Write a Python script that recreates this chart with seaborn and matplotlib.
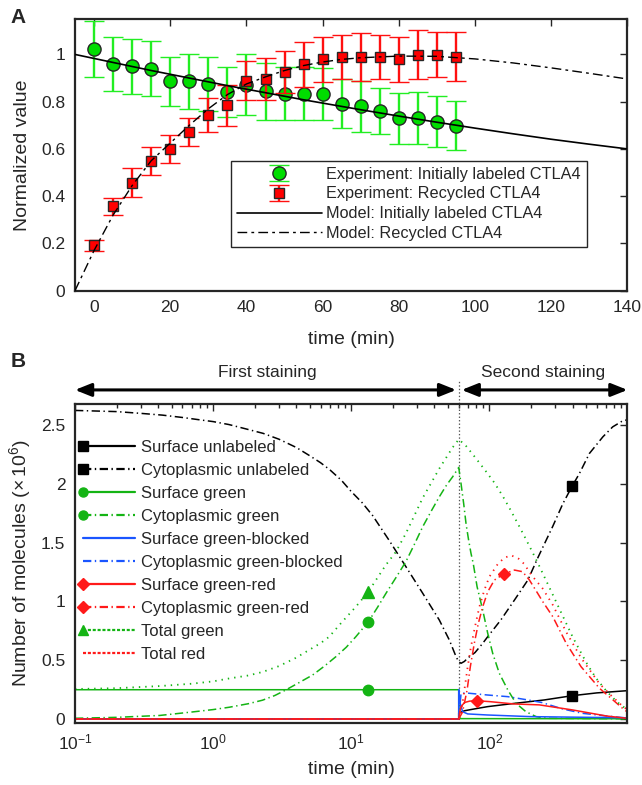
import numpy as np
import matplotlib
matplotlib.use("Agg")
import matplotlib.pyplot as plt
import seaborn as sns
from matplotlib.lines import Line2D
from matplotlib.legend_handler import HandlerLine2D
import matplotlib.ticker as mticker
import matplotlib.transforms as mtrans

# ---------------- Panel A data ----------------
time_exp = [0, 5, 10, 15, 20, 25, 30, 35, 40, 45, 50, 55, 60, 65, 70, 75, 80, 85, 90, 95]
init_mean = [1.023, 0.960, 0.950, 0.940, 0.886, 0.886, 0.876, 0.841, 0.872, 0.844,
             0.834, 0.834, 0.834, 0.791, 0.781, 0.760, 0.730, 0.730, 0.716, 0.699]
init_err = [0.118, 0.115, 0.117, 0.115, 0.105, 0.117, 0.115, 0.107, 0.130, 0.120,
            0.113, 0.113, 0.110, 0.103, 0.108, 0.096, 0.108, 0.110, 0.108, 0.103]
recyc_mean = [0.193, 0.357, 0.457, 0.548, 0.599, 0.673, 0.743, 0.784, 0.889, 0.896,
              0.925, 0.959, 0.979, 0.989, 0.989, 0.989, 0.979, 0.999, 0.999, 0.990]
recyc_err = [0.023, 0.036, 0.061, 0.060, 0.059, 0.060, 0.072, 0.085, 0.083, 0.089,
             0.089, 0.095, 0.095, 0.095, 0.102, 0.095, 0.095, 0.104, 0.095, 0.104]

time_model = [-5, 0, 5, 10, 15, 20, 25, 30, 35, 40, 45, 50, 55, 60, 65, 70, 80, 90,
              100, 110, 120, 130, 140]
model_init = [1.0, 0.983, 0.966, 0.949, 0.932, 0.916, 0.900, 0.884, 0.868, 0.853, 0.838,
              0.823, 0.808, 0.794, 0.780, 0.766, 0.739, 0.713, 0.688, 0.664, 0.641, 0.620, 0.600]
model_recyc = [0.0, 0.17, 0.32, 0.445, 0.55, 0.625, 0.70, 0.77, 0.83, 0.875, 0.905,
               0.932, 0.953, 0.968, 0.979, 0.986, 0.993, 0.992, 0.981, 0.964, 0.943, 0.920, 0.896]

# ---------------- Panel B data ----------------
t_cyto_unl = [0.1, 0.2, 0.3, 0.43, 0.6, 0.8, 1.0, 1.3, 1.7, 2.3, 3.0, 4.0, 5.0, 6.0, 7.0, 8.5,
              10, 12, 14.3, 18.8, 24.9, 32.9, 43.4, 51.3, 57.4, 60, 62.4, 66, 70, 78.7, 89,
              97.3, 121, 152, 190, 224, 288, 340, 397, 449, 530, 663, 781, 924, 1000]
v_cyto_unl = [2.625, 2.615, 2.60, 2.585, 2.565, 2.545, 2.53, 2.505, 2.47, 2.43, 2.38, 2.31,
              2.24, 2.18, 2.12, 2.03, 1.935, 1.84, 1.73, 1.52, 1.295, 1.07, 0.842, 0.672,
              0.53, 0.487, 0.474, 0.49, 0.52, 0.565, 0.64, 0.70, 0.842, 1.012, 1.182, 1.37,
              1.64, 1.83, 1.98, 2.089, 2.259, 2.40, 2.485, 2.537, 2.545]

t_surf_unl = [0.1, 60, 60, 66, 80, 97, 150, 250, 397, 600, 1000]
v_surf_unl = [0.0, 0.0, 0.05, 0.07, 0.088, 0.105, 0.132, 0.162, 0.198, 0.222, 0.241]

t_surf_green = [0.1, 60, 60, 62, 1000]
v_surf_green = [0.249, 0.249, 0.02, 0.003, 0.002]

t_cyto_green = [0.1, 0.2, 0.41, 0.71, 1.0, 1.31, 1.8, 2.28, 2.8, 3.36, 4.2, 5.25, 6.4, 7.74,
                9.2, 10.8, 13.3, 15.5, 17.8, 21, 24.9, 28.5, 32.9, 38, 43.4, 49, 54.2, 60,
                62.4, 65.2, 67.8, 70.8, 73.6, 76.5, 81.5, 89.5, 97.3, 105.7, 118, 136, 156,
                184, 218, 260, 1000]
v_cyto_green = [0.006, 0.014, 0.03, 0.06, 0.08, 0.10, 0.13, 0.16, 0.20, 0.247, 0.31, 0.374,
                0.45, 0.53, 0.61, 0.70, 0.827, 0.95, 1.067, 1.20, 1.34, 1.48, 1.635, 1.77,
                1.89, 1.99, 2.06, 2.14, 2.0, 1.83, 1.66, 1.52, 1.41, 1.32, 1.125, 0.927, 0.729,
                0.559, 0.389, 0.247, 0.133, 0.062, 0.02, 0.006, 0.002]

t_tot_green = [0.1, 0.2, 0.41, 0.7, 1.0, 1.31, 1.8, 2.28, 3.0, 3.97, 5.0, 6.0, 6.93, 8.5, 10.8,
               13.3, 17.8, 21, 24.9, 32.9, 43.4, 54.2, 60, 67, 79, 93, 108.7, 125, 142, 161,
               182, 205, 230, 257, 288, 322, 360, 402, 454, 515, 593, 700, 836, 1000]
v_tot_green = [0.255, 0.262, 0.28, 0.30, 0.32, 0.345, 0.37, 0.40, 0.45, 0.52, 0.59, 0.645,
               0.70, 0.82, 0.955, 1.083, 1.31, 1.42, 1.58, 1.88, 2.13, 2.31, 2.378, 2.33, 2.225,
               2.117, 2.01, 1.896, 1.78, 1.66, 1.54, 1.42, 1.30, 1.18, 1.057, 0.935, 0.814,
               0.695, 0.578, 0.459, 0.346, 0.241, 0.147, 0.077]

t_surf_blk = [0.1, 60, 60, 61.5, 64, 69.7, 97, 200, 1000]
v_surf_blk = [0.0, 0.0, 0.25, 0.133, 0.062, 0.043, 0.034, 0.02, 0.01]

t_cyto_blk = [0.1, 60, 62.4, 69.7, 97, 136, 190, 240, 340, 475, 700, 1000]
v_cyto_blk = [0.0, 0.0, 0.22, 0.22, 0.204, 0.19, 0.162, 0.14, 0.085, 0.048, 0.026, 0.008]

t_surf_red = [0.1, 60, 61, 62.4, 66, 72, 81.5, 100, 150, 230, 400, 700, 1000]
v_surf_red = [0.0, 0.0, 0.06, 0.105, 0.14, 0.152, 0.155, 0.148, 0.128, 0.12, 0.077, 0.026, 0.005]

t_cyto_red = [0.1, 60, 64, 69, 72.8, 77.8, 83.2, 89.5, 97.3, 108.7, 127, 152, 174, 195, 224,
              243, 288, 360, 461, 627, 761, 950, 1000]
v_cyto_red = [0.0, 0.0, 0.06, 0.247, 0.445, 0.644, 0.813, 0.955, 1.082, 1.182, 1.233, 1.267,
              1.253, 1.182, 1.068, 1.0, 0.87, 0.644, 0.445, 0.261, 0.176, 0.077, 0.06]

t_tot_red = [0.1, 60, 62, 64, 66, 69.7, 73.6, 78.7, 84.7, 92, 100, 115, 128.5, 144, 163, 179,
             200, 243, 288, 360, 461, 627, 761, 900, 1000]
v_tot_red = [0.0, 0.0, 0.06, 0.14, 0.25, 0.445, 0.615, 0.785, 0.955, 1.097, 1.21, 1.318, 1.372,
             1.392, 1.363, 1.318, 1.23, 1.11, 0.97, 0.74, 0.52, 0.30, 0.20, 0.12, 0.077]

# single marker positions (time, value)
mk_unl_t = [397, 397]
mk_unl_v = [0.198, 1.98]
mk_green_t = [13.3, 13.3]
mk_green_v = [0.249, 0.827]
mk_totg_t = [13.3]
mk_totg_v = [1.083]
mk_red_t = [81.5, 127]
mk_red_v = [0.155, 1.233]

# ---------------- Style ----------------
sns.set_theme(style="white")
plt.rcParams["font.family"] = ["Liberation Sans", "DejaVu Sans"]
plt.rcParams["mathtext.fontset"] = "custom"
plt.rcParams["mathtext.rm"] = "Liberation Sans"
plt.rcParams["mathtext.it"] = "Liberation Sans:italic"
plt.rcParams["mathtext.bf"] = "Liberation Sans:bold"
plt.rcParams["lines.scale_dashes"] = False

DARK = "#262626"
GREEN = "#14b414"
BLUE = "#1a55ff"
RED = "#ff1a1a"
DASHDOT = (0, (6, 2.5, 1, 2.5))
DOTTED = (0, (1, 3.6))
SHORTDASH = (0, (2.2, 1.3))

fig = plt.figure(figsize=(6.42, 7.85), dpi=100)
axA = fig.add_axes([0.1168, 0.6297, 0.8606, 0.3461])
axB = fig.add_axes([0.1168, 0.0790, 0.8606, 0.4064])


def style_axes(ax):
    for s in ax.spines.values():
        s.set_linewidth(1.6)
        s.set_color(DARK)
    ax.tick_params(which="both", direction="in", top=True, right=True,
                   colors=DARK, labelcolor=DARK, labelsize=12.5, width=1.0)
    ax.tick_params(which="major", length=5, pad=7)
    ax.tick_params(which="minor", length=3)


# ---------------- Panel A ----------------
axA.errorbar(time_exp, init_mean, yerr=init_err, fmt="o", ms=9.5, mfc="#00dd00",
             mec=DARK, mew=1.0, ecolor="#22ee22", elinewidth=1.7, capsize=7,
             capthick=1.7, label="Experiment: Initially labeled CTLA4", zorder=3)
axA.errorbar(time_exp, recyc_mean, yerr=recyc_err, fmt="s", ms=7.5, mfc="#ff0000",
             mec=DARK, mew=1.0, ecolor="#ff1010", elinewidth=1.7, capsize=7,
             capthick=1.7, label="Experiment: Recycled CTLA4", zorder=4)
sns.lineplot(x=time_model, y=model_init, ax=axA, color="black", linewidth=1.2,
             estimator=None, sort=False, label="Model: Initially labeled CTLA4", zorder=5)
sns.lineplot(x=time_model, y=model_recyc, ax=axA, color="black", linewidth=1.0,
             linestyle=(0, (7, 3, 2, 3)), estimator=None, sort=False,
             label="Model: Recycled CTLA4", zorder=5)

axA.set_xlim(-5, 140)
axA.set_ylim(0, 1.15)
axA.set_xticks(range(0, 141, 20))
axA.set_yticks([0, 0.2, 0.4, 0.6, 0.8, 1.0])
axA.yaxis.set_major_formatter(mticker.FuncFormatter(lambda v, p: f"{v:g}"))
style_axes(axA)
axA.set_xlabel("time (min)", fontsize=14, color=DARK)
axA.set_ylabel("Normalized value", fontsize=14, color=DARK)
axA.xaxis.set_label_coords(0.5, -0.15)
axA.yaxis.set_label_coords(-0.08, 0.5)

hA, lA = axA.get_legend_handles_labels()
order = [lA.index("Experiment: Initially labeled CTLA4"), lA.index("Experiment: Recycled CTLA4"),
         lA.index("Model: Initially labeled CTLA4"), lA.index("Model: Recycled CTLA4")]
legA = axA.legend([hA[i] for i in order], [lA[i] for i in order], loc="upper left",
                  bbox_to_anchor=(0.283, 0.478), borderaxespad=0,
                  fontsize=11.7, frameon=True, fancybox=False, edgecolor=DARK,
                  framealpha=1, borderpad=0.35, labelspacing=0.3, handlelength=5.2,
                  handletextpad=0.3)
legA.get_frame().set_linewidth(1.0)
for txt in legA.get_texts():
    txt.set_color(DARK)

# ---------------- Panel B ----------------
def bline(t, v, color, ls, lw=1.1, z=2):
    sns.lineplot(x=t, y=v, ax=axB, color=color, linestyle=ls, linewidth=lw,
                 estimator=None, sort=False, legend=False, zorder=z)


bline(t_surf_unl, v_surf_unl, "black", "-")
bline(t_cyto_unl, v_cyto_unl, "black", DASHDOT)
bline(t_surf_green, v_surf_green, GREEN, "-")
bline(t_cyto_green, v_cyto_green, GREEN, DASHDOT)
bline(t_surf_blk, v_surf_blk, BLUE, "-")
bline(t_cyto_blk, v_cyto_blk, BLUE, DASHDOT)
bline(t_surf_red, v_surf_red, RED, "-")
bline(t_cyto_red, v_cyto_red, RED, DASHDOT)
bline(t_tot_green, v_tot_green, GREEN, DOTTED, lw=1.3)
bline(t_tot_red, v_tot_red, RED, DOTTED, lw=1.3)

axB.plot(mk_unl_t, mk_unl_v, ls="none", marker="s", ms=7, color="black", zorder=6)
axB.plot(mk_green_t, mk_green_v, ls="none", marker="o", ms=7.5, color=GREEN, zorder=6)
axB.plot(mk_totg_t, mk_totg_v, ls="none", marker="^", ms=8, color=GREEN, zorder=6)
axB.plot(mk_red_t, mk_red_v, ls="none", marker="D", ms=6.5, color=RED, zorder=6)

axB.set_xscale("log")
axB.set_xlim(0.1, 1000)
axB.set_ylim(-0.034, 2.68)
axB.set_yticks([0, 0.5, 1, 1.5, 2, 2.5])
axB.yaxis.set_major_formatter(mticker.FuncFormatter(lambda v, p: f"{v:g}"))
axB.xaxis.set_minor_locator(mticker.LogLocator(base=10, subs=np.arange(2, 10), numticks=20))
axB.xaxis.set_minor_formatter(mticker.NullFormatter())
style_axes(axB)
axB.set_xticks([0.1, 1, 10, 100])
axB.set_xlabel("time (min)", fontsize=14, color=DARK)
axB.set_ylabel(r"Number of molecules ($\times\,10^6$)", fontsize=14, color=DARK)
axB.xaxis.set_label_coords(0.5, -0.12)
axB.yaxis.set_label_coords(-0.076, 0.5)

# separator line and staining arrows
axB.axvline(60, ymin=0, ymax=1.075, color="#555555", ls=(0, (1, 1.5)), lw=0.9,
            clip_on=False, zorder=1)
trB = mtrans.blended_transform_factory(axB.transData, axB.transAxes)
arrow_kw = dict(arrowstyle="<|-|>,head_length=0.7,head_width=0.28", color="black",
                lw=2.2, shrinkA=0, shrinkB=0, mutation_scale=14)
axB.annotate("", xy=(0.1, 1.044), xytext=(57.5, 1.044), xycoords=trB, textcoords=trB,
             arrowprops=arrow_kw, annotation_clip=False)
axB.annotate("", xy=(63, 1.044), xytext=(1000, 1.044), xycoords=trB, textcoords=trB,
             arrowprops=arrow_kw, annotation_clip=False)
axB.text(2.45, 1.10, "First staining", transform=trB, ha="center", va="center",
         fontsize=12.5, color=DARK)
axB.text(245, 1.10, "Second staining", transform=trB, ha="center", va="center",
         fontsize=12.5, color=DARK)


class HandlerLeftMarker(HandlerLine2D):
    def create_artists(self, *args, **kwargs):
        arts = super().create_artists(*args, **kwargs)
        for a in arts:
            a.set_markevery([0])
        return arts


leg_entries = [
    ("Surface unlabeled", "black", "-", "s"),
    ("Cytoplasmic unlabeled", "black", DASHDOT, "s"),
    ("Surface green", GREEN, "-", "o"),
    ("Cytoplasmic green", GREEN, DASHDOT, "o"),
    ("Surface green-blocked", BLUE, "-", None),
    ("Cytoplasmic green-blocked", BLUE, DASHDOT, None),
    ("Surface green-red", RED, "-", "D"),
    ("Cytoplasmic green-red", RED, DASHDOT, "D"),
    ("Total green", GREEN, SHORTDASH, "^"),
    ("Total red", RED, SHORTDASH, None),
]
handles = []
for lab, col, ls, mk in leg_entries:
    handles.append(Line2D([], [], color=col, linestyle=ls, linewidth=1.6,
                          marker=mk if mk else "None", ms=6.5, mfc=col, mec=col, label=lab))
legB = axB.legend(handles=handles, loc="upper left", bbox_to_anchor=(0.003, 0.909),
                  borderaxespad=0, frameon=False, fontsize=12, labelspacing=0.48,
                  handlelength=3.1, handletextpad=0.35,
                  handler_map={Line2D: HandlerLeftMarker()})
for txt in legB.get_texts():
    txt.set_color(DARK)

# panel letters
fig.text(0.028, 0.978, "A", fontsize=15, fontweight="bold", ha="center", va="center")
fig.text(0.0287, 0.539, "B", fontsize=15, fontweight="bold", ha="center", va="center")

fig.savefig("out.png", dpi=100)
